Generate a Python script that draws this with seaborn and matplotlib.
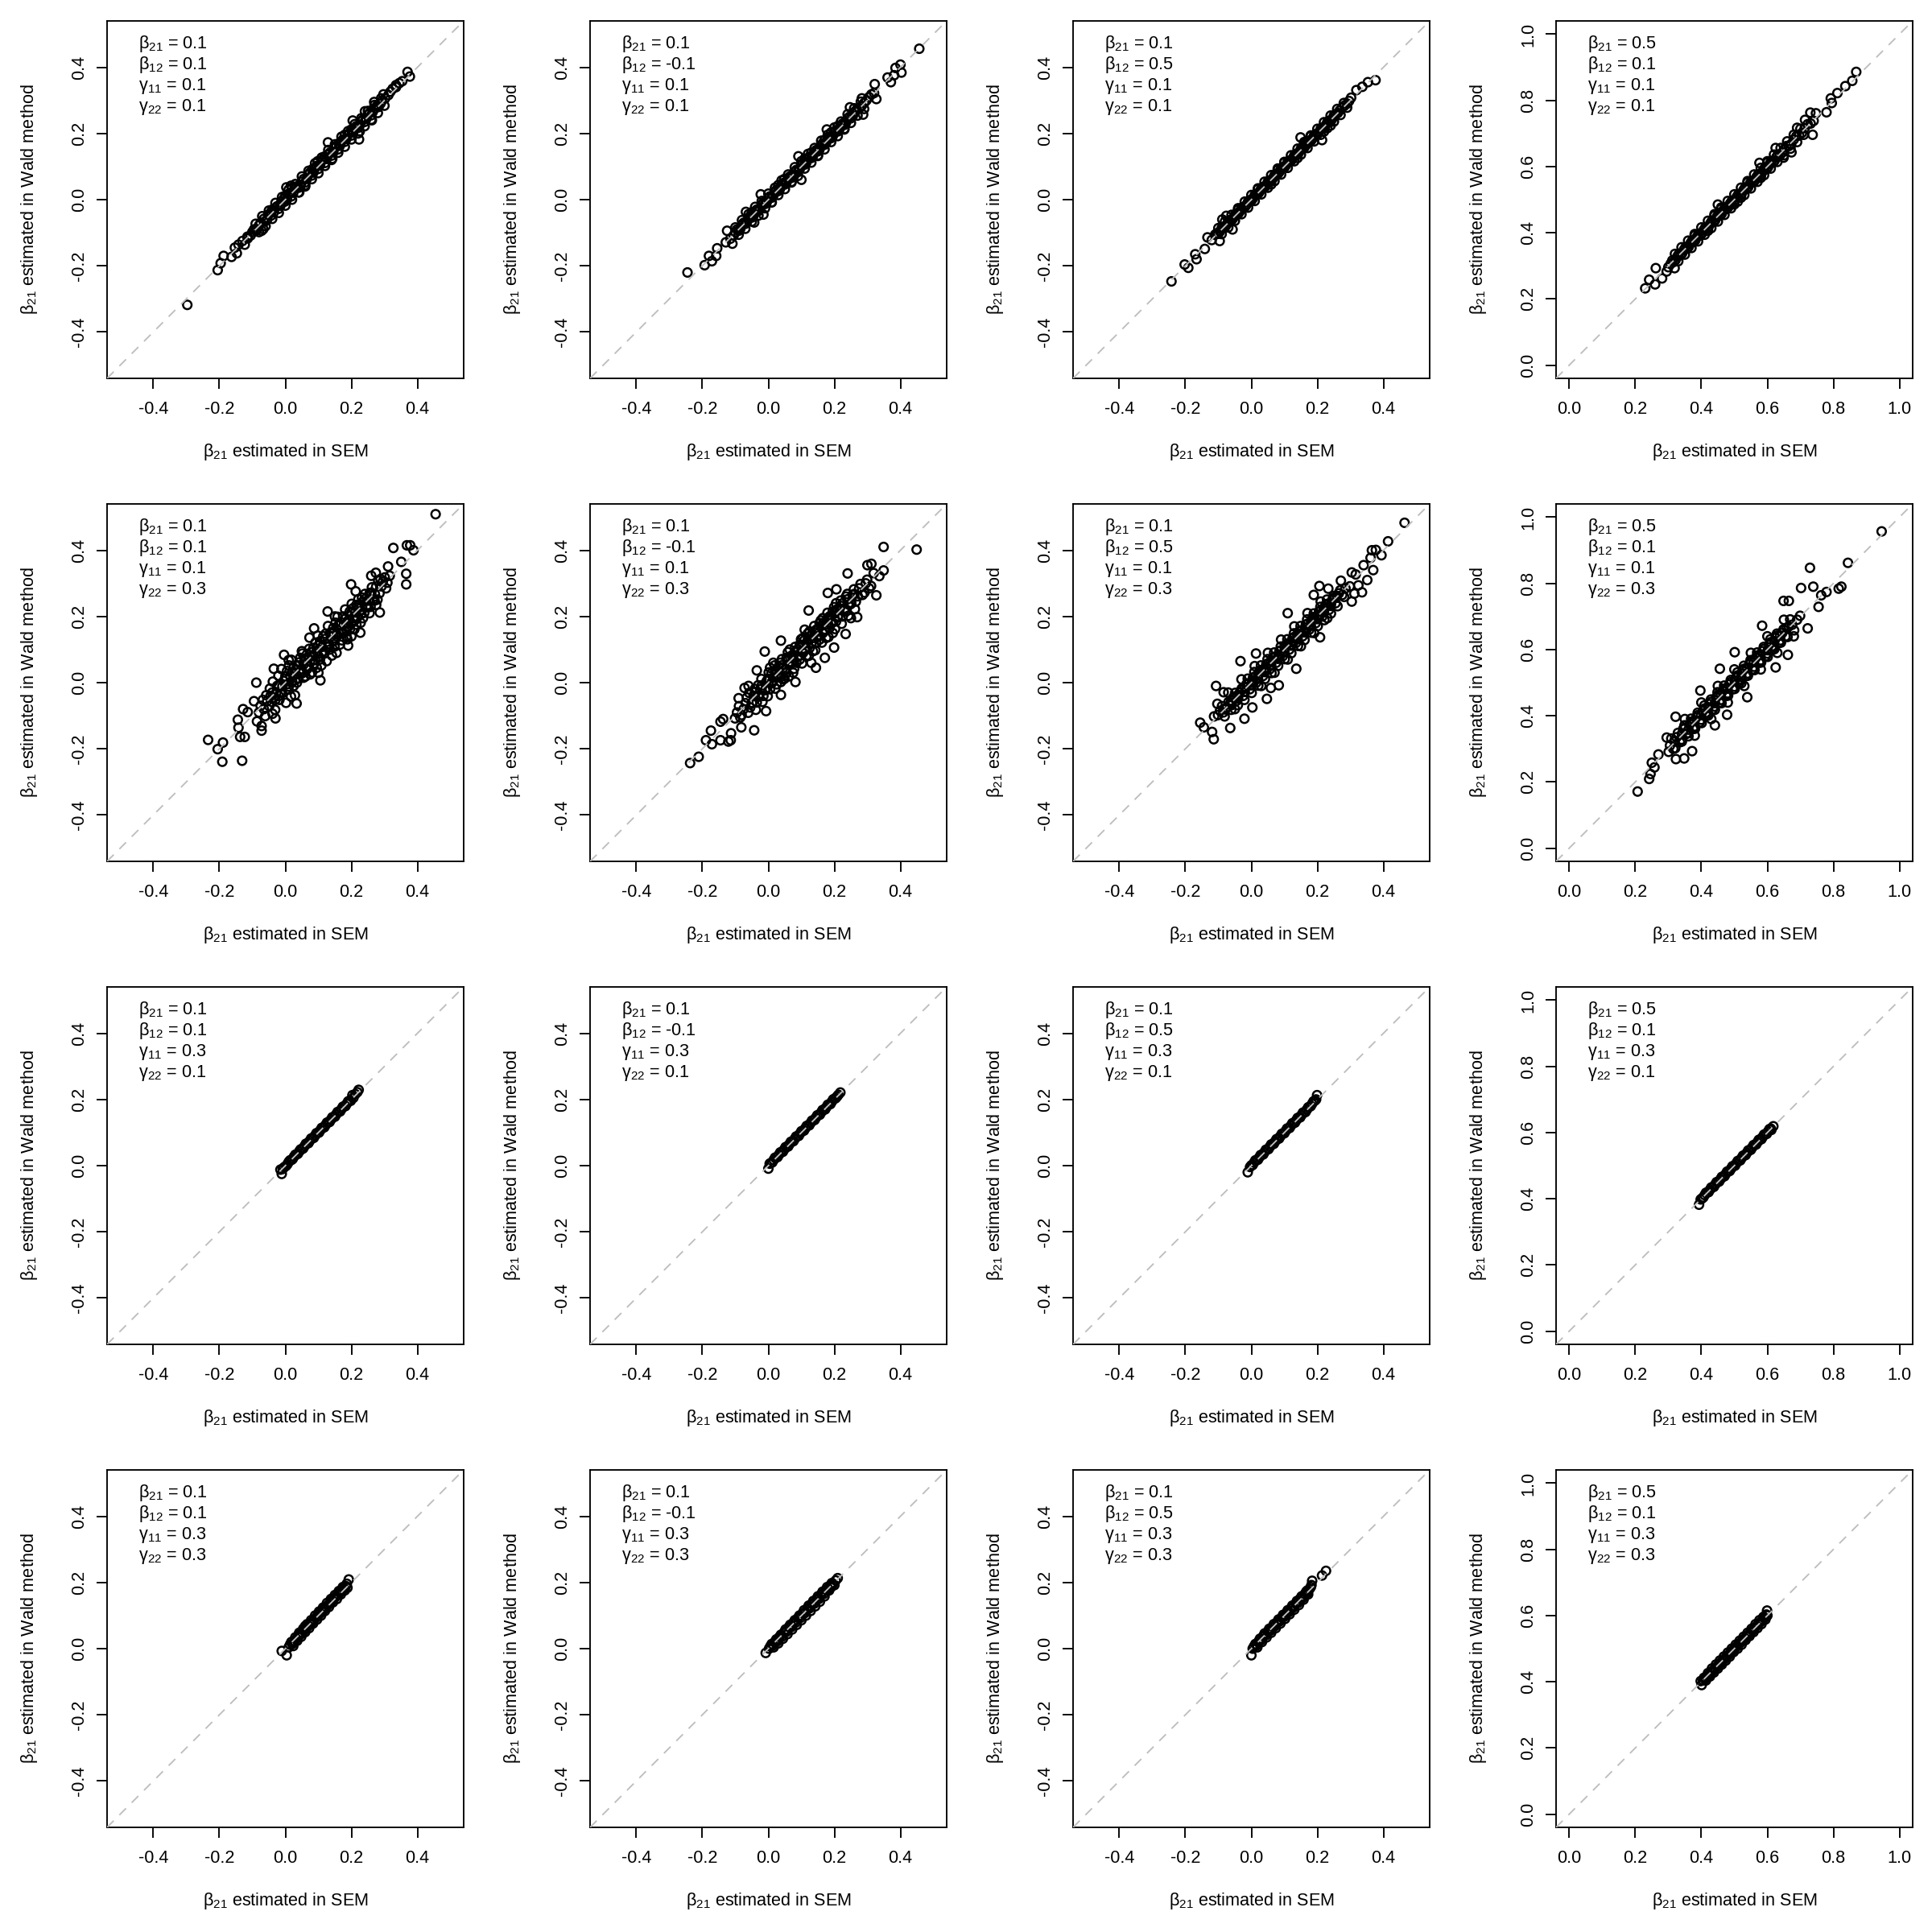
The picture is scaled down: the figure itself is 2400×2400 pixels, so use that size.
import matplotlib
matplotlib.use("Agg")
import matplotlib.pyplot as plt
import seaborn as sns
import pandas as pd
from matplotlib.ticker import FormatStrFormatter

# simulation settings printed in each panel
beta21 = ["0.1", "0.1", "0.1", "0.5"]      # by column
beta12 = ["0.1", "-0.1", "0.5", "0.1"]     # by column
gamma11 = ["0.1", "0.1", "0.3", "0.3"]     # by row
gamma22 = ["0.1", "0.3", "0.1", "0.3"]     # by row

ticks_small = [-0.4, -0.2, 0.0, 0.2, 0.4]
ticks_large = [0.0, 0.2, 0.4, 0.6, 0.8, 1.0]

# (beta21 estimated in SEM, beta21 estimated in Wald method)
# outer points / tails first, then the dense band
r1c1 = [(-0.297, -0.318), (-0.205, -0.213), (-0.196, -0.192), (-0.187, -0.170), (-0.163, -0.173),
        (-0.153, -0.145), (-0.147, -0.162), (-0.142, -0.136), (-0.123, -0.136), (-0.114, -0.117),
        (-0.072, -0.094), (-0.067, -0.089), (0.003, 0.037), (0.017, 0.042), (0.129, 0.173),
        (0.223, 0.182), (0.204, 0.239), (0.241, 0.267), (0.269, 0.295), (0.297, 0.318),
        (0.335, 0.346), (0.354, 0.358), (0.370, 0.386), (0.377, 0.372),
        (-0.130, -0.125), (-0.105, -0.108), (-0.095, -0.090), (-0.085, -0.090), (-0.075, -0.070),
        (-0.062, -0.066), (-0.052, -0.046), (-0.043, -0.048), (-0.032, -0.026), (-0.021, -0.028),
        (-0.012, -0.006), (-0.002, -0.006), (0.008, 0.015), (0.018, 0.010), (0.028, 0.034),
        (0.040, 0.036), (0.050, 0.054), (0.060, 0.052), (0.070, 0.076), (0.080, 0.073),
        (0.090, 0.096), (0.100, 0.093), (0.110, 0.117), (0.120, 0.111), (0.130, 0.136),
        (0.140, 0.133), (0.150, 0.157), (0.160, 0.152), (0.170, 0.176), (0.180, 0.175),
        (0.190, 0.197), (0.200, 0.194), (0.210, 0.216), (0.220, 0.217), (0.230, 0.237),
        (0.240, 0.235), (0.250, 0.257), (0.260, 0.255), (0.272, 0.277), (0.282, 0.280),
        (0.292, 0.298), (0.312, 0.316), (0.325, 0.335), (0.345, 0.352), (0.020, 0.036),
        (0.060, 0.044), (0.098, 0.116), (0.142, 0.124), (0.180, 0.196), (0.225, 0.206),
        (-0.040, -0.030), (0.082, 0.092), (0.118, 0.130), (0.162, 0.170), (0.042, 0.022),
        (0.000, 0.012), (0.262, 0.240), (0.200, 0.212)]
r1c1_band = [(-0.115, -0.112), (-0.100, -0.098), (-0.090, -0.094), (-0.080, -0.078), (-0.065, -0.058),
             (-0.055, -0.060), (-0.045, -0.040), (-0.035, -0.038), (-0.025, -0.020), (-0.015, -0.018),
             (-0.005, 0.002), (0.005, 0.001), (0.013, 0.020), (0.024, 0.021), (0.035, 0.040),
             (0.046, 0.043), (0.055, 0.062), (0.065, 0.063), (0.075, 0.082), (0.085, 0.082),
             (0.095, 0.102), (0.105, 0.104), (0.115, 0.122), (0.125, 0.123), (0.135, 0.142),
             (0.145, 0.143), (0.155, 0.162), (0.165, 0.163), (0.175, 0.182), (0.185, 0.184),
             (0.195, 0.202), (0.205, 0.203), (0.215, 0.222), (0.225, 0.224), (0.235, 0.242),
             (0.245, 0.244), (0.255, 0.262), (0.265, 0.266), (0.278, 0.284), (0.288, 0.290),
             (0.302, 0.306), (0.318, 0.326), (0.335, 0.340)]
r1c1_edge = [(-0.090, -0.073), (-0.070, -0.050), (-0.050, -0.033), (-0.030, -0.010), (-0.010, 0.008),
             (0.010, 0.030), (0.030, 0.047), (0.050, 0.070), (0.070, 0.087), (0.090, 0.110),
             (0.110, 0.127), (0.130, 0.150), (0.150, 0.167), (0.170, 0.190), (0.190, 0.207),
             (0.210, 0.228), (0.230, 0.246), (0.250, 0.268), (0.270, 0.286), (0.290, 0.306),
             (-0.080, -0.098), (-0.060, -0.080), (-0.040, -0.058), (-0.020, -0.040), (0.000, -0.018),
             (0.020, 0.000), (0.040, 0.022), (0.060, 0.040), (0.080, 0.062), (0.100, 0.080),
             (0.120, 0.102), (0.140, 0.120), (0.160, 0.142), (0.180, 0.160), (0.200, 0.182),
             (0.220, 0.200), (0.240, 0.222), (0.260, 0.242), (0.280, 0.262), (0.300, 0.284)]
r1c2 = [(-0.245, -0.220), (-0.193, -0.198), (-0.180, -0.170), (-0.171, -0.186), (-0.158, -0.170),
        (-0.155, -0.147), (-0.129, -0.129), (-0.125, -0.094), (-0.109, -0.133), (-0.068, -0.037),
        (-0.043, -0.069), (-0.023, 0.016), (-0.015, -0.045), (0.091, 0.131), (0.100, 0.060),
        (0.457, 0.456), (0.400, 0.408), (0.385, 0.398), (0.403, 0.384), (0.381, 0.376),
        (0.361, 0.369), (0.371, 0.355), (0.322, 0.349), (0.327, 0.304), (0.283, 0.306),
        (0.247, 0.279), (0.287, 0.257), (0.177, 0.212),
        (-0.115, -0.118), (-0.100, -0.098), (-0.090, -0.094), (-0.080, -0.076), (-0.070, -0.073),
        (-0.060, -0.055), (-0.050, -0.054), (-0.040, -0.035), (-0.030, -0.034), (-0.020, -0.015),
        (-0.010, -0.013), (0.000, 0.005), (0.010, 0.006), (0.020, 0.025), (0.030, 0.026),
        (0.040, 0.045), (0.050, 0.046), (0.060, 0.065), (0.070, 0.066), (0.080, 0.085),
        (0.090, 0.086), (0.100, 0.105), (0.110, 0.106), (0.120, 0.125), (0.130, 0.126),
        (0.140, 0.145), (0.150, 0.146), (0.160, 0.165), (0.170, 0.166), (0.180, 0.185),
        (0.190, 0.186), (0.200, 0.205), (0.210, 0.206), (0.220, 0.225), (0.230, 0.226),
        (0.240, 0.245), (0.250, 0.246), (0.262, 0.266), (0.275, 0.276), (0.290, 0.292),
        (0.305, 0.310), (0.320, 0.322), (0.030, 0.044), (0.070, 0.052), (0.110, 0.124),
        (0.150, 0.132), (0.190, 0.203), (0.230, 0.212), (-0.050, -0.038), (0.048, 0.062),
        (0.130, 0.142), (0.170, 0.180), (0.010, -0.008), (0.210, 0.222)]
r1c2_band = [(-0.105, -0.108), (-0.095, -0.090), (-0.085, -0.088), (-0.075, -0.070), (-0.065, -0.068),
             (-0.055, -0.050), (-0.045, -0.048), (-0.035, -0.030), (-0.025, -0.028), (-0.015, -0.010),
             (-0.005, -0.008), (0.005, 0.010), (0.015, 0.012), (0.025, 0.030), (0.035, 0.032),
             (0.045, 0.050), (0.055, 0.052), (0.065, 0.070), (0.075, 0.072), (0.085, 0.090),
             (0.095, 0.092), (0.105, 0.110), (0.115, 0.112), (0.125, 0.130), (0.135, 0.132),
             (0.145, 0.150), (0.155, 0.152), (0.165, 0.170), (0.175, 0.172), (0.185, 0.190),
             (0.195, 0.192), (0.205, 0.210), (0.215, 0.212), (0.225, 0.230), (0.235, 0.232),
             (0.245, 0.250), (0.256, 0.254), (0.268, 0.272), (0.282, 0.283), (0.297, 0.300),
             (0.312, 0.318)]
r1c2_edge = [(-0.100, -0.084), (-0.080, -0.062), (-0.060, -0.044), (-0.040, -0.022), (-0.020, -0.004),
             (0.000, 0.018), (0.020, 0.036), (0.040, 0.058), (0.060, 0.076), (0.080, 0.098),
             (0.100, 0.116), (0.120, 0.138), (0.140, 0.156), (0.160, 0.178), (0.180, 0.196),
             (0.200, 0.218), (0.220, 0.236), (0.240, 0.258), (0.260, 0.276), (0.280, 0.296),
             (-0.090, -0.106), (-0.070, -0.088), (-0.050, -0.066), (-0.030, -0.048), (-0.010, -0.026),
             (0.010, -0.008), (0.030, 0.014), (0.050, 0.032), (0.070, 0.054), (0.090, 0.072),
             (0.110, 0.094), (0.130, 0.112), (0.150, 0.134), (0.170, 0.152), (0.190, 0.174),
             (0.210, 0.192), (0.230, 0.214), (0.250, 0.232), (0.270, 0.254), (0.290, 0.274)]
r1c3 = [(-0.242, -0.247), (-0.202, -0.196), (-0.191, -0.206), (-0.170, -0.165), (-0.166, -0.180),
        (-0.141, -0.149), (-0.133, -0.114), (-0.096, -0.125), (-0.088, -0.060), (-0.057, -0.090),
        (-0.076, -0.049), (0.376, 0.361), (0.353, 0.355), (0.336, 0.341), (0.318, 0.331),
        (0.214, 0.180), (0.149, 0.188),
        (-0.120, -0.122), (-0.110, -0.106), (-0.100, -0.103), (-0.090, -0.086), (-0.080, -0.083),
        (-0.070, -0.066), (-0.060, -0.063), (-0.050, -0.046), (-0.040, -0.043), (-0.030, -0.026),
        (-0.020, -0.023), (-0.010, -0.006), (0.000, -0.003), (0.010, 0.014), (0.020, 0.017),
        (0.030, 0.034), (0.040, 0.037), (0.050, 0.054), (0.060, 0.057), (0.070, 0.074),
        (0.080, 0.077), (0.090, 0.094), (0.100, 0.097), (0.110, 0.114), (0.120, 0.117),
        (0.130, 0.134), (0.140, 0.137), (0.150, 0.154), (0.160, 0.157), (0.170, 0.174),
        (0.180, 0.177), (0.190, 0.194), (0.200, 0.197), (0.210, 0.214), (0.220, 0.217),
        (0.230, 0.234), (0.240, 0.237), (0.250, 0.254), (0.262, 0.262), (0.275, 0.278),
        (0.290, 0.290), (0.302, 0.308), (0.020, 0.032), (0.060, 0.046), (0.100, 0.112),
        (0.140, 0.126), (0.180, 0.192), (0.220, 0.206), (-0.040, -0.030), (0.080, 0.090),
        (0.160, 0.170), (0.240, 0.224)]
r1c3_band = [(-0.105, -0.102), (-0.095, -0.096), (-0.085, -0.082), (-0.075, -0.076), (-0.065, -0.062),
             (-0.055, -0.056), (-0.045, -0.042), (-0.035, -0.036), (-0.025, -0.022), (-0.015, -0.016),
             (-0.005, -0.002), (0.005, 0.004), (0.015, 0.018), (0.025, 0.024), (0.035, 0.038),
             (0.045, 0.044), (0.055, 0.058), (0.065, 0.064), (0.075, 0.078), (0.085, 0.084),
             (0.095, 0.098), (0.105, 0.104), (0.115, 0.118), (0.125, 0.124), (0.135, 0.138),
             (0.145, 0.144), (0.155, 0.158), (0.165, 0.164), (0.175, 0.178), (0.185, 0.184),
             (0.195, 0.198), (0.205, 0.204), (0.215, 0.218), (0.225, 0.224), (0.235, 0.238),
             (0.245, 0.244), (0.256, 0.258), (0.268, 0.270), (0.282, 0.284), (0.296, 0.298)]
r1c3_edge = [(-0.100, -0.086), (-0.080, -0.066), (-0.060, -0.046), (-0.040, -0.026), (-0.020, -0.006),
             (0.000, 0.014), (0.020, 0.034), (0.040, 0.054), (0.060, 0.074), (0.080, 0.094),
             (0.100, 0.114), (0.120, 0.134), (0.140, 0.154), (0.160, 0.174), (0.180, 0.194),
             (0.200, 0.214), (0.220, 0.234), (0.240, 0.254), (0.260, 0.274), (0.280, 0.292),
             (-0.090, -0.104), (-0.070, -0.084), (-0.050, -0.064), (-0.030, -0.044), (-0.010, -0.024),
             (0.010, -0.004), (0.030, 0.016), (0.050, 0.036), (0.070, 0.056), (0.090, 0.076),
             (0.110, 0.096), (0.130, 0.116), (0.150, 0.136), (0.170, 0.156), (0.190, 0.176),
             (0.210, 0.196), (0.230, 0.216), (0.250, 0.236), (0.270, 0.256), (0.290, 0.278)]
r1c4 = [(0.230, 0.232), (0.242, 0.258), (0.260, 0.244), (0.262, 0.293), (0.281, 0.262),
        (0.295, 0.283), (0.319, 0.293), (0.869, 0.886), (0.857, 0.859), (0.836, 0.843),
        (0.812, 0.822), (0.792, 0.806), (0.795, 0.792), (0.779, 0.764), (0.730, 0.763),
        (0.747, 0.761), (0.737, 0.696), (0.714, 0.741), (0.690, 0.717), (0.673, 0.643),
        (0.625, 0.656), (0.649, 0.627), (0.450, 0.485), (0.576, 0.611),
        (0.300, 0.296), (0.312, 0.316), (0.322, 0.318), (0.332, 0.336), (0.342, 0.338),
        (0.352, 0.356), (0.362, 0.358), (0.372, 0.376), (0.382, 0.378), (0.392, 0.396),
        (0.402, 0.398), (0.412, 0.416), (0.422, 0.418), (0.432, 0.436), (0.442, 0.438),
        (0.452, 0.456), (0.462, 0.458), (0.472, 0.476), (0.482, 0.478), (0.492, 0.496),
        (0.502, 0.498), (0.512, 0.516), (0.522, 0.518), (0.532, 0.536), (0.542, 0.538),
        (0.552, 0.556), (0.562, 0.558), (0.572, 0.576), (0.582, 0.578), (0.592, 0.596),
        (0.602, 0.598), (0.612, 0.616), (0.622, 0.618), (0.632, 0.636), (0.645, 0.642),
        (0.658, 0.662), (0.672, 0.668), (0.688, 0.692), (0.705, 0.702), (0.722, 0.728),
        (0.740, 0.738), (0.380, 0.392), (0.420, 0.406), (0.460, 0.472), (0.500, 0.486),
        (0.540, 0.552), (0.580, 0.566), (0.440, 0.452), (0.520, 0.506), (0.600, 0.612)]
r1c4_band = [(0.307, 0.306), (0.317, 0.312), (0.327, 0.328), (0.337, 0.332), (0.347, 0.348),
             (0.357, 0.352), (0.367, 0.368), (0.377, 0.372), (0.387, 0.388), (0.397, 0.392),
             (0.407, 0.408), (0.417, 0.412), (0.427, 0.428), (0.437, 0.432), (0.447, 0.448),
             (0.457, 0.452), (0.467, 0.468), (0.477, 0.472), (0.487, 0.488), (0.497, 0.492),
             (0.507, 0.508), (0.517, 0.512), (0.527, 0.528), (0.537, 0.532), (0.547, 0.548),
             (0.557, 0.552), (0.567, 0.568), (0.577, 0.572), (0.587, 0.588), (0.597, 0.592),
             (0.607, 0.608), (0.617, 0.612), (0.627, 0.628), (0.638, 0.634), (0.651, 0.652),
             (0.665, 0.662), (0.680, 0.682), (0.696, 0.694), (0.713, 0.716), (0.731, 0.730)]
r1c4_edge = [(0.320, 0.336), (0.340, 0.356), (0.360, 0.376), (0.380, 0.396), (0.400, 0.416),
             (0.420, 0.436), (0.440, 0.456), (0.460, 0.476), (0.480, 0.496), (0.500, 0.516),
             (0.520, 0.536), (0.540, 0.556), (0.560, 0.576), (0.580, 0.596), (0.600, 0.616),
             (0.620, 0.636), (0.640, 0.656), (0.660, 0.676), (0.680, 0.696), (0.700, 0.714),
             (0.330, 0.314), (0.350, 0.334), (0.370, 0.354), (0.390, 0.374), (0.410, 0.394),
             (0.430, 0.414), (0.450, 0.434), (0.470, 0.454), (0.490, 0.474), (0.510, 0.494),
             (0.530, 0.514), (0.550, 0.534), (0.570, 0.554), (0.590, 0.574), (0.610, 0.594),
             (0.630, 0.614), (0.650, 0.634), (0.670, 0.654), (0.690, 0.674), (0.710, 0.696)]

r2c1 = [(0.455, 0.509), (0.327, 0.407), (0.368, 0.415), (0.378, 0.415), (0.388, 0.400),
        (0.351, 0.365), (0.366, 0.329), (0.366, 0.297), (0.286, 0.212), (0.199, 0.297),
        (0.227, 0.151), (0.190, 0.112), (0.106, 0.007), (0.128, 0.215), (-0.088, 0.000),
        (0.034, -0.063), (-0.234, -0.173), (-0.205, -0.201), (-0.189, -0.181), (-0.191, -0.239),
        (-0.131, -0.236), (-0.144, -0.112), (-0.142, -0.136), (-0.137, -0.164), (-0.123, -0.164),
        (-0.128, -0.080), (-0.114, -0.089), (-0.095, -0.056), (-0.072, -0.131), (-0.072, -0.145),
        (-0.086, -0.117), (-0.030, -0.108), (-0.039, -0.094), (0.017, -0.042), (-0.035, 0.042),
        (-0.004, 0.084), (0.073, 0.136), (0.087, 0.164), (0.260, 0.323), (0.274, 0.332),
        (0.288, 0.313), (0.311, 0.351), (0.316, 0.323), (0.213, 0.276), (0.232, 0.257),
        (-0.080, -0.090), (-0.068, -0.052), (-0.061, -0.101), (-0.058, -0.038), (-0.049, -0.071),
        (-0.047, -0.018), (-0.041, -0.058), (-0.038, 0.003), (-0.031, -0.082), (-0.027, -0.029),
        (-0.021, 0.021), (-0.018, -0.052), (-0.009, -0.011), (-0.012, 0.041), (0.002, -0.061),
        (0.000, 0.019), (0.011, 0.052), (0.009, -0.021), (0.021, 0.002), (0.018, 0.069),
        (0.031, 0.028), (0.029, -0.038), (0.041, 0.061), (0.038, 0.012), (0.052, 0.088),
        (0.049, 0.041), (0.061, 0.019), (0.058, 0.071), (0.072, 0.102), (0.069, 0.049),
        (0.081, 0.031), (0.078, 0.092), (0.091, 0.121), (0.088, 0.058), (0.101, 0.079),
        (0.098, 0.142), (0.111, 0.108), (0.109, 0.052), (0.122, 0.148), (0.118, 0.088),
        (0.131, 0.118), (0.129, 0.171), (0.141, 0.082), (0.138, 0.139), (0.152, 0.181),
        (0.149, 0.109), (0.161, 0.151), (0.158, 0.199), (0.171, 0.128), (0.169, 0.182),
        (0.181, 0.221), (0.178, 0.158), (0.191, 0.189), (0.188, 0.131), (0.201, 0.238),
        (0.199, 0.178), (0.211, 0.212), (0.209, 0.161), (0.221, 0.252), (0.218, 0.198),
        (0.231, 0.229), (0.228, 0.181), (0.241, 0.268), (0.239, 0.211), (0.251, 0.248),
        (0.262, 0.288), (0.258, 0.229), (0.271, 0.268), (0.281, 0.308), (0.279, 0.251),
        (0.291, 0.291), (0.301, 0.318), (0.309, 0.302)]
r2c1_band = [(-0.075, -0.070), (-0.065, -0.080), (-0.055, -0.055), (-0.045, -0.040), (-0.035, -0.045),
             (-0.025, -0.010), (-0.015, -0.030), (-0.005, 0.005), (0.005, -0.005), (0.005, 0.035),
             (0.015, 0.020), (0.025, 0.045), (0.025, -0.010), (0.035, 0.050), (0.035, 0.000),
             (0.045, 0.030), (0.045, 0.075), (0.055, 0.055), (0.055, 0.015), (0.065, 0.085),
             (0.065, 0.040), (0.075, 0.065), (0.075, 0.025), (0.085, 0.105), (0.085, 0.080),
             (0.095, 0.045), (0.095, 0.095), (0.105, 0.125), (0.105, 0.070), (0.115, 0.095),
             (0.115, 0.140), (0.125, 0.065), (0.125, 0.110), (0.135, 0.150), (0.135, 0.100),
             (0.145, 0.125), (0.145, 0.165), (0.155, 0.090), (0.155, 0.140), (0.165, 0.175),
             (0.165, 0.115), (0.175, 0.150), (0.175, 0.200), (0.185, 0.140), (0.185, 0.180),
             (0.195, 0.215), (0.195, 0.160), (0.205, 0.195), (0.205, 0.225), (0.215, 0.175),
             (0.215, 0.235), (0.225, 0.215), (0.235, 0.245), (0.235, 0.195), (0.245, 0.230),
             (0.255, 0.270), (0.255, 0.210), (0.265, 0.250), (0.275, 0.290), (0.275, 0.235),
             (0.285, 0.270), (0.295, 0.305), (0.305, 0.285), (0.010, 0.068), (-0.020, -0.040),
             (0.050, 0.095), (0.150, 0.200), (0.100, 0.030), (0.200, 0.140)]
r2c1_core = [(-0.040, -0.030), (-0.030, -0.052), (-0.020, -0.008), (-0.010, -0.032), (0.000, 0.012),
             (0.010, -0.012), (0.020, 0.032), (0.030, 0.008), (0.040, 0.052), (0.050, 0.028),
             (0.060, 0.072), (0.070, 0.048), (0.080, 0.092), (0.090, 0.068), (0.100, 0.112),
             (0.110, 0.088), (0.120, 0.132), (0.130, 0.108), (0.140, 0.152), (0.150, 0.128),
             (0.160, 0.172), (0.170, 0.148), (0.180, 0.192), (0.190, 0.168), (0.200, 0.212),
             (0.210, 0.188), (0.220, 0.232), (0.230, 0.208), (0.240, 0.252), (0.250, 0.228),
             (0.260, 0.272), (0.270, 0.248)]
r2c2 = [(-0.237, -0.243), (-0.211, -0.224), (-0.189, -0.174), (-0.174, -0.145), (-0.171, -0.186),
        (-0.145, -0.174), (-0.121, -0.178), (-0.114, -0.174), (-0.145, -0.118), (-0.137, -0.110),
        (-0.113, -0.153), (-0.082, -0.135), (-0.043, -0.144), (-0.090, -0.047), (-0.072, -0.016),
        (-0.035, 0.037), (-0.011, 0.094), (-0.007, -0.086), (0.038, -0.037), (0.082, 0.002),
        (0.038, 0.127), (0.122, 0.218), (0.144, 0.045), (0.171, 0.075), (0.199, 0.106),
        (0.234, 0.147), (0.269, 0.198), (0.180, 0.271), (0.206, 0.282), (0.240, 0.330),
        (0.300, 0.355), (0.312, 0.359), (0.327, 0.264), (0.336, 0.322), (0.349, 0.339),
        (0.349, 0.410), (0.449, 0.402),
        (-0.101, -0.108), (-0.089, -0.071), (-0.081, -0.098), (-0.069, -0.062), (-0.061, -0.091),
        (-0.058, -0.031), (-0.049, -0.061), (-0.041, -0.019), (-0.038, -0.082), (-0.029, -0.041),
        (-0.021, 0.011), (-0.018, -0.058), (-0.009, -0.022), (0.001, 0.031), (-0.002, -0.041),
        (0.011, 0.002), (0.019, 0.052), (0.021, -0.018), (0.031, 0.021), (0.041, 0.071),
        (0.038, 0.002), (0.051, 0.041), (0.059, 0.092), (0.062, 0.019), (0.071, 0.061),
        (0.081, 0.108), (0.078, 0.042), (0.091, 0.081), (0.099, 0.131), (0.102, 0.058),
        (0.111, 0.101), (0.119, 0.148), (0.122, 0.081), (0.131, 0.121), (0.139, 0.171),
        (0.142, 0.098), (0.151, 0.141), (0.159, 0.188), (0.162, 0.121), (0.171, 0.161),
        (0.179, 0.211), (0.182, 0.138), (0.191, 0.181), (0.199, 0.228), (0.202, 0.162),
        (0.211, 0.201), (0.219, 0.248), (0.222, 0.178), (0.231, 0.221), (0.239, 0.268),
        (0.242, 0.202), (0.251, 0.241), (0.259, 0.282), (0.262, 0.222), (0.271, 0.261),
        (0.279, 0.298), (0.291, 0.272), (0.299, 0.311), (0.311, 0.292), (0.319, 0.331),
        (0.031, 0.048), (0.071, 0.082), (0.109, 0.128), (0.151, 0.162), (0.191, 0.202),
        (0.049, 0.012), (0.089, 0.101), (0.131, 0.142), (0.169, 0.182), (0.209, 0.222),
        (0.009, 0.028), (-0.031, -0.008)]
r2c2_band = [(-0.095, -0.090), (-0.085, -0.105), (-0.075, -0.080), (-0.065, -0.045), (-0.055, -0.075),
             (-0.045, -0.040), (-0.035, -0.060), (-0.025, -0.020), (-0.015, -0.040), (-0.005, 0.005),
             (0.005, -0.020), (0.005, 0.045), (0.015, 0.015), (0.025, 0.035), (0.025, -0.005),
             (0.035, 0.060), (0.035, 0.015), (0.045, 0.045), (0.045, 0.010), (0.055, 0.075),
             (0.055, 0.030), (0.065, 0.055), (0.065, 0.100), (0.075, 0.075), (0.075, 0.030),
             (0.085, 0.095), (0.085, 0.060), (0.095, 0.115), (0.095, 0.070), (0.105, 0.090),
             (0.105, 0.135), (0.115, 0.080), (0.115, 0.120), (0.125, 0.155), (0.125, 0.105),
             (0.135, 0.135), (0.135, 0.095), (0.145, 0.160), (0.145, 0.120), (0.155, 0.180),
             (0.155, 0.130), (0.165, 0.150), (0.165, 0.195), (0.175, 0.175), (0.175, 0.135),
             (0.185, 0.200), (0.185, 0.165), (0.195, 0.215), (0.195, 0.150), (0.205, 0.185),
             (0.205, 0.240), (0.215, 0.220), (0.225, 0.200), (0.225, 0.240), (0.235, 0.260),
             (0.235, 0.215), (0.245, 0.235), (0.255, 0.265), (0.265, 0.245), (0.275, 0.285),
             (0.285, 0.265), (0.295, 0.300), (0.305, 0.285), (0.015, 0.060), (0.110, 0.160),
             (-0.060, -0.010), (0.130, 0.060), (0.250, 0.195)]
r2c2_core = [(-0.050, -0.062), (-0.040, -0.028), (-0.030, -0.042), (-0.020, -0.008), (-0.010, -0.022),
             (0.000, 0.012), (0.010, -0.002), (0.020, 0.032), (0.030, 0.018), (0.040, 0.052),
             (0.050, 0.038), (0.060, 0.072), (0.070, 0.058), (0.080, 0.092), (0.090, 0.078),
             (0.100, 0.112), (0.110, 0.098), (0.120, 0.132), (0.130, 0.118), (0.140, 0.152),
             (0.150, 0.138), (0.160, 0.172), (0.170, 0.158), (0.180, 0.192), (0.190, 0.178),
             (0.200, 0.212), (0.210, 0.198), (0.220, 0.232), (0.230, 0.218), (0.240, 0.252),
             (0.250, 0.238), (0.260, 0.268)]
r2c3 = [(0.464, 0.483), (0.414, 0.427), (0.365, 0.400), (0.377, 0.401), (0.394, 0.385),
        (0.361, 0.377), (0.340, 0.355), (0.369, 0.340), (0.351, 0.310), (0.304, 0.333),
        (0.316, 0.327), (0.324, 0.294), (0.335, 0.273), (0.312, 0.269), (0.304, 0.245),
        (0.271, 0.308), (0.206, 0.292), (0.233, 0.284), (0.189, 0.265), (0.110, 0.210),
        (0.208, 0.137), (0.136, 0.042), (-0.033, 0.065), (0.014, 0.088), (-0.107, -0.010),
        (-0.084, -0.029), (0.047, -0.049), (0.003, -0.075), (-0.103, -0.064), (-0.113, -0.102),
        (-0.155, -0.121), (-0.144, -0.135), (-0.119, -0.149), (-0.114, -0.171), (-0.064, -0.137),
        (-0.021, -0.109), (0.083, -0.008), (0.059, -0.016),
        (-0.101, -0.098), (-0.089, -0.071), (-0.081, -0.102), (-0.069, -0.058), (-0.061, -0.082),
        (-0.049, -0.031), (-0.041, -0.068), (-0.029, -0.018), (-0.021, -0.052), (-0.011, 0.012),
        (0.001, -0.031), (0.009, 0.032), (0.021, -0.009), (0.029, 0.052), (0.041, 0.011),
        (0.049, 0.071), (0.061, 0.029), (0.069, 0.091), (0.081, 0.051), (0.089, 0.109),
        (0.101, 0.071), (0.109, 0.131), (0.121, 0.089), (0.129, 0.149), (0.141, 0.111),
        (0.149, 0.171), (0.161, 0.129), (0.169, 0.191), (0.181, 0.151), (0.189, 0.209),
        (0.201, 0.171), (0.209, 0.229), (0.221, 0.189), (0.229, 0.251), (0.241, 0.209),
        (0.249, 0.262), (0.261, 0.231), (0.269, 0.279), (0.281, 0.259), (0.298, 0.291),
        (-0.079, -0.081), (-0.041, -0.038), (0.002, 0.001), (0.039, 0.041), (0.081, 0.078),
        (0.119, 0.122), (0.161, 0.158), (0.199, 0.202), (0.241, 0.238), (-0.061, -0.055),
        (-0.019, -0.015), (0.021, 0.025), (0.059, 0.065), (0.101, 0.105), (0.139, 0.145),
        (0.181, 0.185), (0.219, 0.225), (0.259, 0.262)]
r2c3_band = [(-0.095, -0.085), (-0.085, -0.090), (-0.075, -0.075), (-0.065, -0.065), (-0.055, -0.045),
             (-0.045, -0.055), (-0.035, -0.030), (-0.025, -0.040), (-0.015, -0.005), (-0.005, -0.020),
             (0.005, 0.015), (0.015, 0.000), (0.025, 0.035), (0.035, 0.020), (0.045, 0.055),
             (0.055, 0.040), (0.065, 0.075), (0.075, 0.060), (0.085, 0.095), (0.095, 0.080),
             (0.105, 0.115), (0.115, 0.100), (0.125, 0.135), (0.135, 0.120), (0.145, 0.155),
             (0.155, 0.140), (0.165, 0.175), (0.175, 0.160), (0.185, 0.195), (0.195, 0.180),
             (0.205, 0.215), (0.215, 0.200), (0.225, 0.235), (0.235, 0.220), (0.245, 0.250),
             (0.255, 0.240), (0.265, 0.270), (0.275, 0.265), (0.285, 0.285), (0.010, 0.050),
             (0.050, 0.090), (0.090, 0.130), (0.130, 0.170), (0.170, 0.210), (0.210, 0.245),
             (0.030, -0.010), (0.070, 0.030), (0.110, 0.070), (0.150, 0.110), (0.190, 0.150),
             (0.230, 0.195), (-0.030, 0.010), (-0.070, -0.030), (-0.050, -0.080)]
r2c3_core = [(-0.060, -0.068), (-0.050, -0.042), (-0.040, -0.048), (-0.030, -0.022), (-0.020, -0.028),
             (-0.010, -0.002), (0.000, -0.008), (0.010, 0.018), (0.020, 0.012), (0.030, 0.038),
             (0.040, 0.032), (0.050, 0.058), (0.060, 0.052), (0.070, 0.078), (0.080, 0.072),
             (0.090, 0.098), (0.100, 0.092), (0.110, 0.118), (0.120, 0.112), (0.130, 0.138),
             (0.140, 0.132), (0.150, 0.158), (0.160, 0.152), (0.170, 0.178), (0.180, 0.172),
             (0.190, 0.198), (0.200, 0.192), (0.210, 0.218), (0.220, 0.212), (0.230, 0.238),
             (0.240, 0.232), (0.250, 0.256)]
r2c4 = [(0.946, 0.957), (0.844, 0.862), (0.729, 0.847), (0.816, 0.784), (0.824, 0.790),
        (0.779, 0.774), (0.763, 0.764), (0.739, 0.790), (0.702, 0.786), (0.649, 0.747),
        (0.665, 0.747), (0.755, 0.729), (0.722, 0.664), (0.662, 0.584), (0.584, 0.672),
        (0.625, 0.546), (0.539, 0.456), (0.478, 0.403), (0.441, 0.371), (0.501, 0.592),
        (0.456, 0.542), (0.397, 0.476), (0.322, 0.397), (0.348, 0.271), (0.372, 0.293),
        (0.323, 0.269), (0.270, 0.283), (0.250, 0.258), (0.258, 0.244), (0.246, 0.224),
        (0.242, 0.209), (0.207, 0.171), (0.295, 0.334),
        (0.301, 0.291), (0.309, 0.331), (0.321, 0.302), (0.329, 0.348), (0.341, 0.322),
        (0.349, 0.371), (0.361, 0.338), (0.369, 0.391), (0.381, 0.361), (0.389, 0.409),
        (0.401, 0.378), (0.409, 0.431), (0.421, 0.401), (0.429, 0.449), (0.441, 0.418),
        (0.449, 0.471), (0.461, 0.438), (0.469, 0.491), (0.481, 0.461), (0.489, 0.508),
        (0.501, 0.481), (0.509, 0.531), (0.521, 0.498), (0.529, 0.551), (0.541, 0.521),
        (0.549, 0.568), (0.561, 0.538), (0.569, 0.591), (0.581, 0.561), (0.589, 0.608),
        (0.601, 0.578), (0.609, 0.631), (0.621, 0.601), (0.629, 0.648), (0.641, 0.621),
        (0.649, 0.661), (0.661, 0.638), (0.669, 0.691), (0.681, 0.658), (0.699, 0.702),
        (0.319, 0.322), (0.361, 0.358), (0.399, 0.402), (0.441, 0.438), (0.479, 0.482),
        (0.521, 0.518), (0.559, 0.562), (0.601, 0.598), (0.639, 0.642), (0.341, 0.345),
        (0.379, 0.385), (0.421, 0.425), (0.459, 0.465), (0.501, 0.505), (0.539, 0.545),
        (0.579, 0.585), (0.621, 0.625), (0.659, 0.665)]
r2c4_band = [(0.305, 0.310), (0.315, 0.300), (0.325, 0.335), (0.335, 0.320), (0.345, 0.360),
             (0.355, 0.345), (0.365, 0.375), (0.375, 0.360), (0.385, 0.395), (0.395, 0.380),
             (0.405, 0.415), (0.415, 0.400), (0.425, 0.435), (0.435, 0.420), (0.445, 0.455),
             (0.455, 0.440), (0.465, 0.475), (0.475, 0.460), (0.485, 0.495), (0.495, 0.480),
             (0.505, 0.515), (0.515, 0.500), (0.525, 0.535), (0.535, 0.520), (0.545, 0.555),
             (0.555, 0.540), (0.565, 0.575), (0.575, 0.560), (0.585, 0.595), (0.595, 0.580),
             (0.605, 0.615), (0.615, 0.600), (0.625, 0.635), (0.635, 0.620), (0.645, 0.650),
             (0.655, 0.640), (0.665, 0.670), (0.675, 0.675), (0.690, 0.690), (0.350, 0.390),
             (0.400, 0.440), (0.450, 0.490), (0.500, 0.540), (0.550, 0.590), (0.600, 0.640),
             (0.650, 0.690), (0.380, 0.340), (0.430, 0.390), (0.480, 0.440), (0.530, 0.490),
             (0.580, 0.540), (0.630, 0.590), (0.680, 0.640)]
r2c4_core = [(0.340, 0.328), (0.350, 0.362), (0.360, 0.348), (0.370, 0.382), (0.380, 0.368),
             (0.390, 0.402), (0.400, 0.388), (0.410, 0.422), (0.420, 0.408), (0.430, 0.442),
             (0.440, 0.428), (0.450, 0.462), (0.460, 0.448), (0.470, 0.482), (0.480, 0.468),
             (0.490, 0.502), (0.500, 0.488), (0.510, 0.522), (0.520, 0.508), (0.530, 0.542),
             (0.540, 0.528), (0.550, 0.562), (0.560, 0.548), (0.570, 0.582), (0.580, 0.568),
             (0.590, 0.602), (0.600, 0.588), (0.610, 0.622), (0.620, 0.608), (0.630, 0.642),
             (0.640, 0.628), (0.650, 0.660)]

r3c1 = [(-0.011, -0.025), (-0.015, -0.012), (-0.004, -0.005), (0.006, 0.004), (0.014, 0.016),
        (0.022, 0.020), (0.030, 0.033), (0.038, 0.036), (0.046, 0.049), (0.054, 0.052),
        (0.062, 0.066), (0.070, 0.068), (0.078, 0.082), (0.086, 0.084), (0.094, 0.098),
        (0.102, 0.100), (0.110, 0.114), (0.118, 0.116), (0.126, 0.130), (0.134, 0.132),
        (0.142, 0.146), (0.150, 0.148), (0.158, 0.162), (0.166, 0.164), (0.174, 0.178),
        (0.182, 0.180), (0.190, 0.194), (0.198, 0.196), (0.203, 0.213), (0.218, 0.222),
        (0.222, 0.229)]
r3c1_band = [(-0.008, -0.010), (0.002, -0.001), (0.010, 0.011), (0.018, 0.017), (0.026, 0.027),
             (0.034, 0.034), (0.042, 0.043), (0.050, 0.050), (0.058, 0.059), (0.066, 0.067),
             (0.074, 0.075), (0.082, 0.083), (0.090, 0.091), (0.098, 0.099), (0.106, 0.107),
             (0.114, 0.115), (0.122, 0.123), (0.130, 0.131), (0.138, 0.139), (0.146, 0.147),
             (0.154, 0.155), (0.162, 0.163), (0.170, 0.171), (0.178, 0.179), (0.186, 0.187),
             (0.194, 0.196), (0.206, 0.205), (0.212, 0.216)]
r3c2 = [(0.000, -0.009), (0.004, 0.006), (0.012, 0.010), (0.020, 0.024), (0.028, 0.026),
        (0.036, 0.040), (0.044, 0.042), (0.052, 0.056), (0.060, 0.058), (0.068, 0.072),
        (0.076, 0.074), (0.084, 0.088), (0.092, 0.090), (0.100, 0.104), (0.108, 0.106),
        (0.116, 0.120), (0.124, 0.122), (0.132, 0.136), (0.140, 0.138), (0.148, 0.152),
        (0.156, 0.154), (0.164, 0.168), (0.172, 0.170), (0.180, 0.184), (0.188, 0.186),
        (0.196, 0.200), (0.204, 0.204), (0.212, 0.214), (0.218, 0.221)]
r3c2_band = [(0.008, 0.008), (0.016, 0.017), (0.024, 0.025), (0.032, 0.033), (0.040, 0.041),
             (0.048, 0.049), (0.056, 0.057), (0.064, 0.065), (0.072, 0.073), (0.080, 0.081),
             (0.088, 0.089), (0.096, 0.097), (0.104, 0.105), (0.112, 0.113), (0.120, 0.121),
             (0.128, 0.129), (0.136, 0.137), (0.144, 0.145), (0.152, 0.153), (0.160, 0.161),
             (0.168, 0.169), (0.176, 0.177), (0.184, 0.185), (0.192, 0.193), (0.200, 0.202),
             (0.208, 0.209)]
r3c3 = [(-0.011, -0.020), (-0.004, -0.004), (0.004, 0.002), (0.012, 0.016), (0.020, 0.018),
        (0.028, 0.032), (0.036, 0.034), (0.044, 0.048), (0.052, 0.050), (0.060, 0.064),
        (0.068, 0.066), (0.076, 0.080), (0.084, 0.082), (0.092, 0.096), (0.100, 0.098),
        (0.108, 0.112), (0.116, 0.114), (0.124, 0.128), (0.132, 0.130), (0.140, 0.144),
        (0.148, 0.146), (0.156, 0.160), (0.164, 0.162), (0.172, 0.176), (0.180, 0.180),
        (0.188, 0.194), (0.196, 0.200), (0.199, 0.213)]
r3c3_band = [(0.000, 0.001), (0.008, 0.009), (0.016, 0.017), (0.024, 0.025), (0.032, 0.033),
             (0.040, 0.041), (0.048, 0.049), (0.056, 0.057), (0.064, 0.065), (0.072, 0.073),
             (0.080, 0.081), (0.088, 0.089), (0.096, 0.097), (0.104, 0.105), (0.112, 0.113),
             (0.120, 0.121), (0.128, 0.129), (0.136, 0.137), (0.144, 0.145), (0.152, 0.153),
             (0.160, 0.161), (0.168, 0.169), (0.176, 0.178), (0.184, 0.187), (0.192, 0.196)]
r3c4 = [(0.393, 0.382), (0.398, 0.398), (0.406, 0.404), (0.414, 0.418), (0.422, 0.420),
        (0.430, 0.434), (0.438, 0.436), (0.446, 0.450), (0.454, 0.452), (0.462, 0.466),
        (0.470, 0.468), (0.478, 0.482), (0.486, 0.484), (0.494, 0.498), (0.502, 0.500),
        (0.510, 0.514), (0.518, 0.516), (0.526, 0.530), (0.534, 0.532), (0.542, 0.546),
        (0.550, 0.548), (0.558, 0.562), (0.566, 0.564), (0.574, 0.578), (0.582, 0.580),
        (0.590, 0.594), (0.598, 0.596), (0.606, 0.610), (0.612, 0.608), (0.618, 0.619)]
r3c4_band = [(0.402, 0.401), (0.410, 0.411), (0.418, 0.419), (0.426, 0.427), (0.434, 0.435),
             (0.442, 0.443), (0.450, 0.451), (0.458, 0.459), (0.466, 0.467), (0.474, 0.475),
             (0.482, 0.483), (0.490, 0.491), (0.498, 0.499), (0.506, 0.507), (0.514, 0.515),
             (0.522, 0.523), (0.530, 0.531), (0.538, 0.539), (0.546, 0.547), (0.554, 0.555),
             (0.562, 0.563), (0.570, 0.571), (0.578, 0.579), (0.586, 0.587), (0.594, 0.595),
             (0.602, 0.603), (0.610, 0.612)]

r4c1 = [(0.004, -0.020), (-0.011, -0.007), (0.010, 0.004), (0.018, 0.020), (0.024, 0.008),
        (0.030, 0.034), (0.036, 0.024), (0.042, 0.048), (0.048, 0.036), (0.054, 0.060),
        (0.060, 0.050), (0.066, 0.074), (0.072, 0.062), (0.078, 0.086), (0.084, 0.076),
        (0.090, 0.100), (0.096, 0.088), (0.102, 0.112), (0.108, 0.100), (0.114, 0.124),
        (0.120, 0.114), (0.126, 0.138), (0.132, 0.126), (0.138, 0.150), (0.144, 0.140),
        (0.150, 0.162), (0.156, 0.150), (0.162, 0.174), (0.168, 0.164), (0.174, 0.186),
        (0.180, 0.176), (0.186, 0.196), (0.192, 0.209), (0.188, 0.184), (0.060, 0.068),
        (0.100, 0.106), (0.140, 0.146), (0.040, 0.042), (0.120, 0.126), (0.160, 0.162)]
r4c1_band = [(0.014, 0.012), (0.021, 0.014), (0.027, 0.021), (0.033, 0.029), (0.039, 0.036),
             (0.045, 0.042), (0.051, 0.048), (0.057, 0.055), (0.063, 0.062), (0.069, 0.068),
             (0.075, 0.074), (0.081, 0.081), (0.087, 0.088), (0.093, 0.094), (0.099, 0.100),
             (0.105, 0.106), (0.111, 0.112), (0.117, 0.119), (0.123, 0.125), (0.129, 0.132),
             (0.135, 0.138), (0.141, 0.144), (0.147, 0.151), (0.153, 0.157), (0.159, 0.163),
             (0.165, 0.170), (0.171, 0.176), (0.177, 0.182), (0.183, 0.189)]
r4c2 = [(-0.008, -0.013), (0.002, 0.000), (0.010, 0.014), (0.016, 0.004), (0.024, 0.028),
        (0.030, 0.016), (0.038, 0.042), (0.044, 0.030), (0.052, 0.058), (0.058, 0.044),
        (0.066, 0.072), (0.072, 0.058), (0.080, 0.086), (0.086, 0.072), (0.094, 0.100),
        (0.100, 0.086), (0.108, 0.116), (0.114, 0.100), (0.122, 0.130), (0.128, 0.114),
        (0.136, 0.144), (0.142, 0.128), (0.150, 0.158), (0.156, 0.142), (0.164, 0.172),
        (0.170, 0.158), (0.178, 0.186), (0.184, 0.176), (0.192, 0.198), (0.200, 0.192),
        (0.210, 0.213), (0.070, 0.068), (0.110, 0.108), (0.150, 0.150), (0.030, 0.030),
        (0.190, 0.186)]
r4c2_band = [(0.006, 0.007), (0.013, 0.009), (0.020, 0.021), (0.027, 0.022), (0.034, 0.036),
             (0.041, 0.036), (0.048, 0.050), (0.055, 0.051), (0.062, 0.065), (0.069, 0.065),
             (0.076, 0.079), (0.083, 0.079), (0.090, 0.093), (0.097, 0.093), (0.104, 0.107),
             (0.111, 0.108), (0.118, 0.122), (0.125, 0.122), (0.132, 0.136), (0.139, 0.136),
             (0.146, 0.150), (0.153, 0.150), (0.160, 0.164), (0.167, 0.165), (0.174, 0.178),
             (0.181, 0.180), (0.188, 0.192), (0.196, 0.196), (0.204, 0.206)]
r4c3 = [(0.000, -0.020), (0.004, 0.000), (0.012, 0.014), (0.018, 0.004), (0.026, 0.030),
        (0.032, 0.020), (0.040, 0.046), (0.046, 0.034), (0.054, 0.060), (0.060, 0.048),
        (0.068, 0.074), (0.074, 0.062), (0.082, 0.088), (0.088, 0.076), (0.096, 0.102),
        (0.102, 0.090), (0.110, 0.116), (0.116, 0.104), (0.124, 0.130), (0.130, 0.118),
        (0.138, 0.144), (0.144, 0.132), (0.152, 0.158), (0.158, 0.148), (0.166, 0.172),
        (0.172, 0.164), (0.180, 0.186), (0.184, 0.205), (0.214, 0.221), (0.226, 0.235),
        (0.060, 0.056), (0.100, 0.098), (0.140, 0.138), (0.170, 0.176)]
r4c3_band = [(0.008, 0.007), (0.015, 0.009), (0.022, 0.022), (0.029, 0.025), (0.036, 0.038),
             (0.043, 0.040), (0.050, 0.052), (0.057, 0.054), (0.064, 0.066), (0.071, 0.068),
             (0.078, 0.080), (0.085, 0.082), (0.092, 0.094), (0.099, 0.096), (0.106, 0.108),
             (0.113, 0.110), (0.120, 0.122), (0.127, 0.124), (0.134, 0.136), (0.141, 0.139),
             (0.148, 0.151), (0.155, 0.153), (0.162, 0.165), (0.169, 0.168), (0.176, 0.180),
             (0.182, 0.192)]
r4c4 = [(0.401, 0.390), (0.398, 0.402), (0.408, 0.412), (0.414, 0.404), (0.420, 0.426),
        (0.426, 0.416), (0.432, 0.440), (0.438, 0.428), (0.444, 0.452), (0.450, 0.440),
        (0.456, 0.464), (0.462, 0.452), (0.468, 0.476), (0.474, 0.464), (0.480, 0.488),
        (0.486, 0.476), (0.492, 0.500), (0.498, 0.490), (0.504, 0.512), (0.510, 0.500),
        (0.516, 0.524), (0.522, 0.512), (0.528, 0.536), (0.534, 0.526), (0.540, 0.548),
        (0.546, 0.538), (0.552, 0.560), (0.558, 0.550), (0.564, 0.574), (0.570, 0.562),
        (0.576, 0.586), (0.582, 0.574), (0.588, 0.596), (0.594, 0.588), (0.599, 0.615),
        (0.600, 0.600), (0.460, 0.458), (0.500, 0.498), (0.540, 0.536)]
r4c4_band = [(0.405, 0.404), (0.411, 0.408), (0.417, 0.418), (0.423, 0.420), (0.429, 0.430),
             (0.435, 0.433), (0.441, 0.442), (0.447, 0.445), (0.453, 0.454), (0.459, 0.457),
             (0.465, 0.466), (0.471, 0.469), (0.477, 0.478), (0.483, 0.481), (0.489, 0.490),
             (0.495, 0.494), (0.501, 0.502), (0.507, 0.506), (0.513, 0.514), (0.519, 0.518),
             (0.525, 0.526), (0.531, 0.530), (0.537, 0.538), (0.543, 0.542), (0.549, 0.550),
             (0.555, 0.555), (0.561, 0.562), (0.567, 0.568), (0.573, 0.575), (0.579, 0.580),
             (0.585, 0.587), (0.591, 0.593), (0.597, 0.603)]

panels = [[r1c1 + r1c1_band + r1c1_edge, r1c2 + r1c2_band + r1c2_edge,
           r1c3 + r1c3_band + r1c3_edge, r1c4 + r1c4_band + r1c4_edge],
          [r2c1 + r2c1_band + r2c1_core, r2c2 + r2c2_band + r2c2_core,
           r2c3 + r2c3_band + r2c3_core, r2c4 + r2c4_band + r2c4_core],
          [r3c1 + r3c1_band, r3c2 + r3c2_band, r3c3 + r3c3_band, r3c4 + r3c4_band],
          [r4c1 + r4c1_band, r4c2 + r4c2_band, r4c3 + r4c3_band, r4c4 + r4c4_band]]

plt.rcParams["font.family"] = ["Liberation Sans", "DejaVu Sans"]
plt.rcParams["axes.unicode_minus"] = False
plt.rcParams["lines.scale_dashes"] = False

FS = 5.2
fig = plt.figure(figsize=(8, 8), dpi=300)

for r in range(4):
    for c in range(4):
        left = (c * 600 + 133) / 2400
        bottom = 1 - (r * 600 + 470) / 2400
        ax = fig.add_axes([left, bottom, 443 / 2400, 444 / 2400])

        df = pd.DataFrame(panels[r][c], columns=["sem", "wald"])
        sns.scatterplot(data=df, x="sem", y="wald", ax=ax, marker="o", s=6.5,
                        color="black", facecolor="none", edgecolor="black",
                        linewidth=0.6, legend=False, zorder=2)
        ax.axline((0, 0), (1, 1), color="#BEBEBE", lw=0.45,
                  linestyle=(0, (2.8, 2.4)), zorder=3)

        if c == 3:
            lim, ticks = (-0.04, 1.04), ticks_large
        else:
            lim, ticks = (-0.54, 0.54), ticks_small
        ax.set_xlim(lim)
        ax.set_ylim(lim)
        ax.set_xticks(ticks)
        ax.set_yticks(ticks)
        ax.xaxis.set_major_formatter(FormatStrFormatter("%.1f"))
        ax.yaxis.set_major_formatter(FormatStrFormatter("%.1f"))
        ax.tick_params(length=3.1, width=0.45, labelsize=FS, color="black")
        ax.tick_params(axis="x", pad=3.6)
        ax.tick_params(axis="y", pad=2.6, labelrotation=90)
        for lab in ax.get_yticklabels():
            lab.set_va("center")
        for sp in ax.spines.values():
            sp.set_linewidth(0.45)
            sp.set_color("black")

        ax.set_xlabel(r"$\mathregular{\beta_{21}}$ estimated in SEM", fontsize=FS, va="center")
        ax.xaxis.set_label_coords(0.5, -0.206)
        ax.set_ylabel(r"$\mathregular{\beta_{21}}$ estimated in Wald method", fontsize=FS, va="center")
        ax.yaxis.set_label_coords(-0.217, 0.5)

        lines = [r"$\mathregular{\beta_{21}}$ = " + beta21[c],
                 r"$\mathregular{\beta_{12}}$ = " + beta12[c],
                 r"$\mathregular{\gamma_{11}}$ = " + gamma11[r],
                 r"$\mathregular{\gamma_{22}}$ = " + gamma22[r]]
        for i, txt in enumerate(lines):
            ax.text(0.087, 0.923 - i * 0.0585, txt, transform=ax.transAxes,
                    fontsize=FS, va="baseline", ha="left")

fig.savefig("out.png", dpi=300, facecolor="white")
